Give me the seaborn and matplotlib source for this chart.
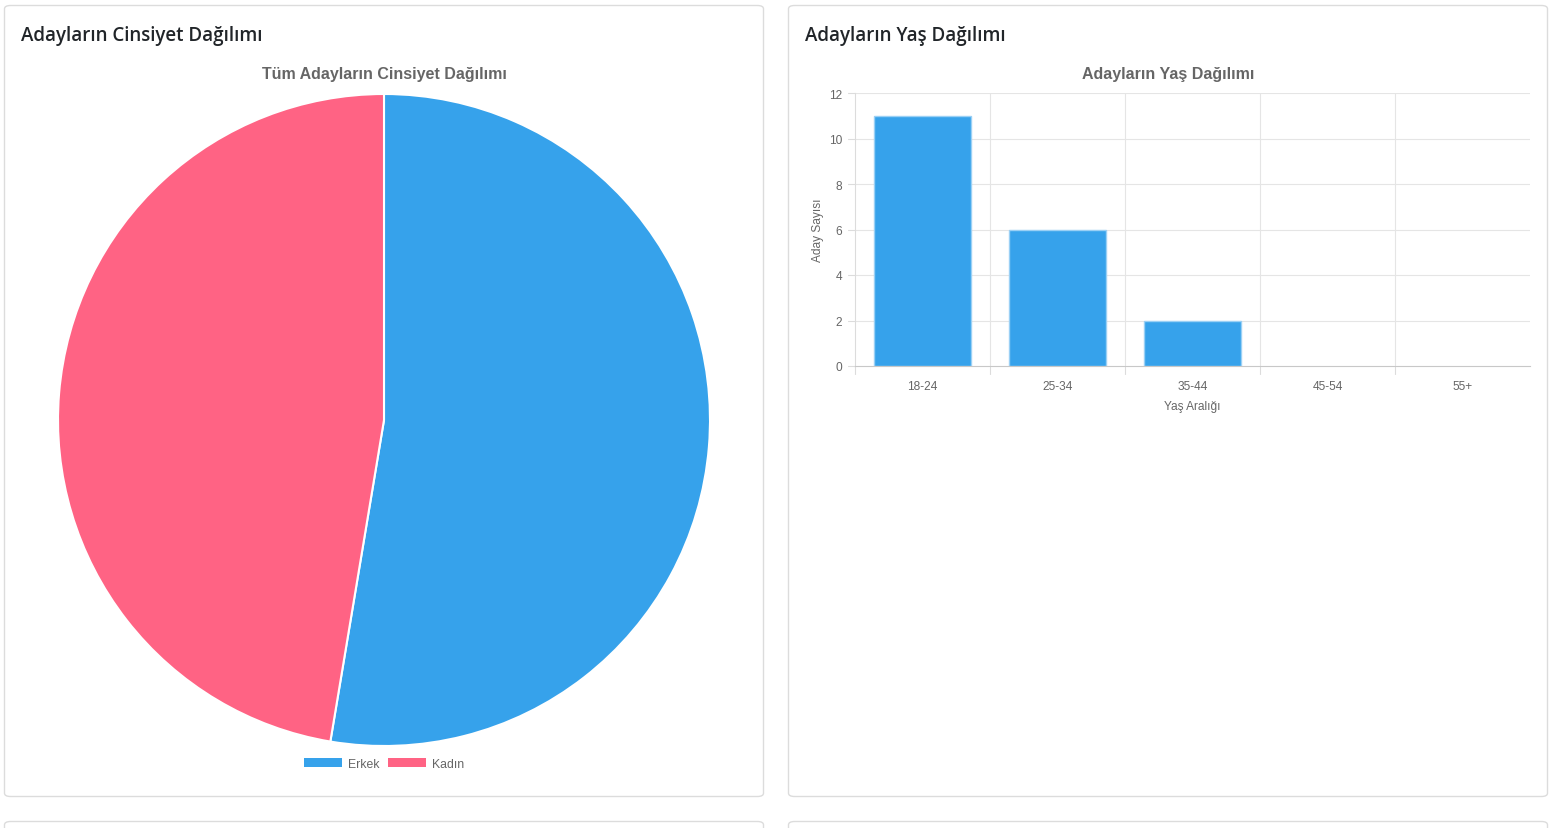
import matplotlib
matplotlib.use("Agg")
import matplotlib.pyplot as plt
from matplotlib.patches import FancyBboxPatch, Patch
import seaborn as sns

# data
gender_labels = ["Erkek", "Kadın"]
gender_counts = [10, 9]
gender_colors = ["#36A2EB", "#FF6384"]

age_labels = ["18-24", "25-34", "35-44", "45-54", "55+"]
age_counts = [11, 6, 2, 0, 0]

W, H = 1554, 829

sns.set_theme(style="white")
plt.rcParams["font.family"] = ["Liberation Sans", "DejaVu Sans"]

fig = plt.figure(figsize=(W / 100, H / 100), dpi=100)
fig.patch.set_facecolor("white")


def px_box(x0, y0, x1, y1):
    # pixel box (top-left origin) -> figure fraction rect
    return [x0 / W, 1 - y1 / H, (x1 - x0) / W, (y1 - y0) / H]


def card(x0, y0, x1, y1):
    r = px_box(x0, y0, x1, y1)
    p = FancyBboxPatch((r[0], r[1]), r[2], r[3],
                       boxstyle="round,pad=0,rounding_size=0.004",
                       transform=fig.transFigure, facecolor="white",
                       edgecolor="#dcdcdc", linewidth=1.0, zorder=-5)
    fig.patches.append(p)


card(4.5, 6.5, 763.5, 797.5)
card(788.5, 6.5, 1547.5, 797.5)
card(4.5, 822.5, 763.5, 860)
card(788.5, 822.5, 1547.5, 860)

header_font = ["Open Sans", "DejaVu Sans"]
fig.text(21 / W, 1 - 36 / H, "Adayların Cinsiyet Dağılımı", fontsize=13.5,
         color="#212529", va="center", ha="left", family=header_font,
         fontweight="semibold")
fig.text(805 / W, 1 - 36 / H, "Adayların Yaş Dağılımı", fontsize=13.5,
         color="#212529", va="center", ha="left", family=header_font,
         fontweight="semibold")

# pie
cx, cy, rad = 384, 421, 326
ax_pie = fig.add_axes(px_box(cx - rad, cy - rad, cx + rad, cy + rad))
ax_pie.pie(gender_counts, colors=gender_colors, startangle=90,
           counterclock=False, radius=1.0,
           wedgeprops=dict(edgecolor="white", linewidth=1.5))
ax_pie.set_xlim(-1, 1)
ax_pie.set_ylim(-1, 1)
ax_pie.set_aspect("equal")
ax_pie.axis("off")
fig.text(384 / W, 1 - 74 / H, "Tüm Adayların Cinsiyet Dağılımı", fontsize=11.5,
         fontweight="bold", color="#666666", ha="center", va="center")

handles = [Patch(facecolor=c, edgecolor="none", label=l)
           for l, c in zip(gender_labels, gender_colors)]
fig.legend(handles=handles, loc="center", bbox_to_anchor=(384 / W, 1 - 765 / H),
           ncol=2, frameon=False, fontsize=8.8, handlelength=3.1,
           handleheight=0.8, columnspacing=0.7, handletextpad=0.5,
           labelcolor="#666666")

# bar chart
ax_bar = fig.add_axes(px_box(855, 94, 1530, 367))
sns.barplot(x=age_labels, y=age_counts, color="#36A2EB", saturation=1,
            width=0.72, ax=ax_bar, edgecolor="#9ad0f5", linewidth=1)
for bar in ax_bar.patches:
    if bar.get_height() == 0:
        bar.set_linewidth(0)
ax_bar.set_ylim(0, 12)
ax_bar.set_xlim(-0.5, len(age_labels) - 0.5)
ax_bar.set_yticks(range(0, 13, 2))
ax_bar.set_xticks(range(len(age_labels)))
ax_bar.set_xticklabels(age_labels)

for y in range(2, 13, 2):
    ax_bar.axhline(y, color="#e5e5e5", linewidth=0.8, zorder=0)
for x in [i + 0.5 for i in range(len(age_labels) - 1)]:
    ax_bar.axvline(x, color="#e5e5e5", linewidth=0.8, zorder=0)
for x in [i - 0.5 for i in range(len(age_labels))]:
    ax_bar.plot([x, x], [0, -0.35], color="#dcdcdc", linewidth=0.8,
                clip_on=False)
for y in range(0, 13, 2):
    ax_bar.plot([-0.5 - 0.05, -0.5], [y, y], color="#dcdcdc", linewidth=0.8,
                clip_on=False)

for side in ["top", "right"]:
    ax_bar.spines[side].set_visible(False)
ax_bar.spines["left"].set_color("#dcdcdc")
ax_bar.spines["bottom"].set_color("#c8c8c8")
ax_bar.spines["left"].set_linewidth(0.8)
ax_bar.spines["bottom"].set_linewidth(0.8)
ax_bar.tick_params(axis="both", length=0, labelsize=8.6, labelcolor="#666666")
ax_bar.tick_params(axis="x", pad=10)
ax_bar.tick_params(axis="y", pad=9)
ax_bar.set_xlabel("Yaş Aralığı", fontsize=8.6, color="#666666", labelpad=6)
ax_bar.set_ylabel("Aday Sayısı", fontsize=8.6, color="#666666", labelpad=4)
ax_bar.set_facecolor("none")
fig.text(1168 / W, 1 - 74 / H, "Adayların Yaş Dağılımı", fontsize=11.5,
         fontweight="bold", color="#666666", ha="center", va="center")

fig.savefig("out.png", dpi=100, facecolor="white")
